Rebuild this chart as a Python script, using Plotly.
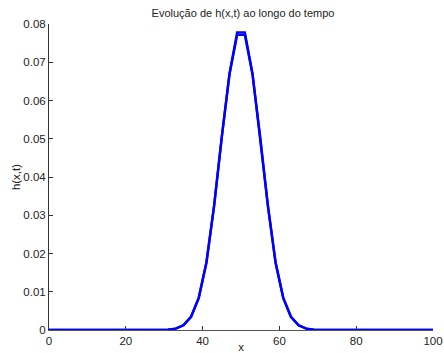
import plotly.graph_objects as go

x_vals = [0, 1, 3, 5, 7, 9, 11, 13, 15, 17, 19, 21, 23, 25, 27, 29, 31, 33, 35, 37, 39,
          41, 43, 45, 47, 49, 51, 53, 55, 57, 59, 61, 63, 65, 67, 69, 71, 73, 75, 77,
          79, 81, 83, 85, 87, 89, 91, 93, 95, 97, 99, 100]

h_t1 = [0, 0, 0, 0, 0, 0, 0, 0, 0, 0, 0, 0, 0, 0, 0, 0.0000224, 0.0000986, 0.000375,
        0.001226, 0.00346, 0.00841, 0.01764, 0.0325, 0.0505, 0.0670, 0.0778, 0.0778,
        0.0670, 0.0505, 0.0325, 0.01764, 0.00841, 0.00346, 0.001226, 0.000375,
        0.0000986, 0.0000224, 0, 0, 0, 0, 0, 0, 0, 0, 0, 0, 0, 0, 0, 0, 0]

h_t2 = [0, 0, 0, 0, 0, 0, 0, 0, 0, 0, 0, 0, 0, 0, 0, 0.0000224, 0.0000986, 0.000375,
        0.001226, 0.00346, 0.00841, 0.01764, 0.0325, 0.0505, 0.0668, 0.0772, 0.0772,
        0.0668, 0.0505, 0.0325, 0.01764, 0.00841, 0.00346, 0.001226, 0.000375,
        0.0000986, 0.0000224, 0, 0, 0, 0, 0, 0, 0, 0, 0, 0, 0, 0, 0, 0, 0]

x_ticks = [0, 20, 40, 60, 80, 100]
y_ticks = [0, 0.01, 0.02, 0.03, 0.04, 0.05, 0.06, 0.07, 0.08]
y_labels = ["0", "0.01", "0.02", "0.03", "0.04", "0.05", "0.06", "0.07", "0.08"]

fig = go.Figure()
for h in (h_t1, h_t2):
    fig.add_trace(go.Scatter(x=x_vals, y=h, mode="lines",
                             line=dict(color="#0000ff", width=2.4),
                             showlegend=False, hoverinfo="skip"))

axis_font = dict(family="Liberation Sans, Arial, sans-serif", size=11.5, color="#222222")

fig.update_layout(
    width=444, height=353,
    margin=dict(l=49, r=11, t=24, b=23),
    paper_bgcolor="white", plot_bgcolor="white",
    title=dict(text="Evolução de h(x,t) ao longo do tempo",
               x=243 / 444, xanchor="center", y=1 - 13 / 353, yanchor="middle",
               font=dict(family="Liberation Sans, Arial, sans-serif", size=11, color="#222222")),
    xaxis=dict(range=[0, 100], tickvals=x_ticks, ticktext=[str(v) for v in x_ticks],
               ticks="inside", ticklen=4, tickcolor="#333333",
               showline=True, linecolor="#555555", linewidth=1,
               showgrid=False, zeroline=False, tickfont=axis_font,
               automargin=False, ticklabeloverflow="allow",
               title=dict(text="x", font=axis_font, standoff=0)),
    yaxis=dict(range=[0, 0.08], tickvals=y_ticks, ticktext=y_labels,
               ticks="inside", ticklen=4, tickcolor="#333333",
               showline=True, linecolor="#333333", linewidth=1,
               showgrid=False, zeroline=False, tickfont=axis_font,
               automargin=False,
               title=dict(text="h(x,t)", font=axis_font, standoff=0)),
)

fig.write_html("out.html")
